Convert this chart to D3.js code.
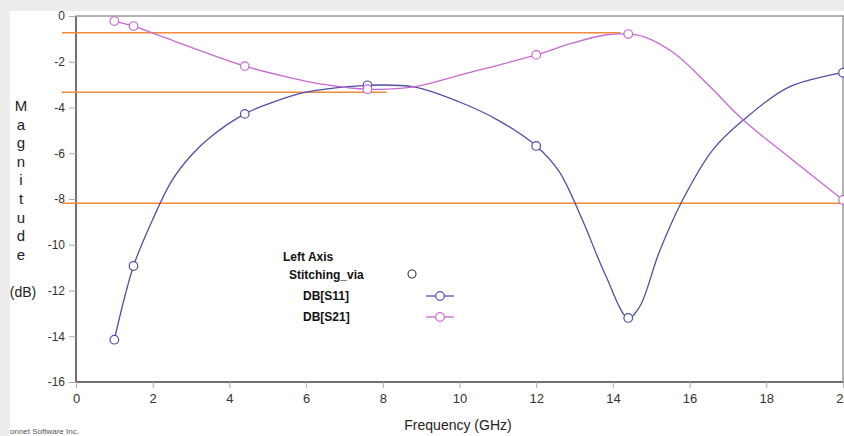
<!DOCTYPE html>
<html>
<head>
<meta charset="utf-8">
<script src="https://cdn.jsdelivr.net/npm/d3@7"></script>
<style>
  html, body { margin: 0; padding: 0; background: #fff; }
  svg { display: block; font-family: "Liberation Sans", Arial, sans-serif; }
</style>
</head>
<body>
<svg id="chart" width="844" height="436"></svg>
<script>
// marker frequencies (GHz) and values at them
const markerFreq = [1, 1.5, 4.4, 7.6, 12, 14.4, 20];
const s11Markers = [-14.15, -10.93, -4.28, -3.03, -5.68, -13.2, -2.48];
const s21Markers = [-0.22, -0.44, -2.19, -3.2, -1.7, -0.79, -8.04];

// curve samples
const s11Freq = [1, 1.5, 2, 2.5, 3, 3.5, 4.4, 5, 5.8, 6.5, 7.6, 8.8, 10, 11, 12, 12.6, 13.2, 13.8, 14.4, 14.7, 15.2, 15.8, 16.6, 17.4, 18.6, 20];
const s11Curve = [-14.15, -10.93, -8.9, -7.2, -6.1, -5.3, -4.28, -3.85, -3.4, -3.2, -3.03, -3.1, -3.76, -4.55, -5.68, -6.8, -8.9, -11.3, -13.2, -12.7, -10.36, -8.1, -5.86, -4.55, -3.1, -2.48];
const s21Freq = [1, 1.5, 2.2, 3.2, 4.4, 5.6, 6.5, 7.6, 8.8, 10.2, 12, 12.96, 13.8, 14.4, 14.8, 15.6, 16.45, 17.4, 18.36, 20];
const s21Curve = [-0.22, -0.44, -0.87, -1.49, -2.19, -2.7, -3.0, -3.2, -3.1, -2.5, -1.7, -1.18, -0.83, -0.79, -0.9, -1.63, -2.95, -4.55, -5.86, -8.04];

// orange reference lines: level (dB) and where each stops (GHz)
const refLevels = [-0.73, -3.33, -8.19];
const refEnds = [14.2, 8.1, 20];

const xTicks = [0, 2, 4, 6, 8, 10, 12, 14, 16, 18, 20];
const yTicks = [0, -2, -4, -6, -8, -10, -12, -14, -16];
const yLetters = ["M", "a", "g", "n", "i", "t", "u", "d", "e"];

const s11Color = "#4f4fa6";
const s21Color = "#c66ad0";
const refColor = "#f28a3a";

const svg = d3.select("#chart");
const W = 844, H = 436;

// gray frame at the top and left
svg.append("rect").attr("x", 0).attr("y", 0).attr("width", W).attr("height", 11).attr("fill", "#ededed");
svg.append("rect").attr("x", 0).attr("y", 0).attr("width", 10).attr("height", H).attr("fill", "#ededed");

const x = d3.scaleLinear().domain([0, 20]).range([76, 843]);
const y = d3.scaleLinear().domain([-16, 0]).range([382, 16]);

// plot frame
svg.append("rect")
    .attr("x", x(0)).attr("y", y(0))
    .attr("width", x(20) - x(0)).attr("height", y(-16) - y(0))
    .attr("fill", "#fff")
    .attr("stroke", "#9a9a9a")
    .attr("stroke-width", 1.5);
svg.append("line")
    .attr("x1", x(0)).attr("x2", x(0)).attr("y1", y(0)).attr("y2", y(-16))
    .attr("stroke", "#707070").attr("stroke-width", 2);
svg.append("line")
    .attr("x1", x(0)).attr("x2", x(20)).attr("y1", y(-16)).attr("y2", y(-16))
    .attr("stroke", "#707070").attr("stroke-width", 2);

// axes (plain hyphen minus, like the original)
const fmt = d => String(d);

const xAxis = svg.append("g")
    .attr("transform", `translate(0,${y(-16)})`)
    .call(d3.axisBottom(x).tickValues(xTicks).tickSize(6).tickPadding(6).tickFormat(fmt));
xAxis.select(".domain").remove();
xAxis.selectAll("line").attr("stroke", "#aaa");
xAxis.selectAll("text").attr("font-size", 13).attr("fill", "#333").attr("font-family", "Liberation Sans, Arial, sans-serif");

const yAxis = svg.append("g")
    .attr("transform", `translate(${x(0)},0)`)
    .call(d3.axisLeft(y).tickValues(yTicks).tickSize(7).tickPadding(4).tickFormat(fmt));
yAxis.select(".domain").remove();
yAxis.selectAll("line").attr("stroke", "#aaa");
yAxis.selectAll("text").attr("font-size", 12).attr("fill", "#333").attr("font-family", "Liberation Sans, Arial, sans-serif");

// axis titles
svg.append("text")
    .attr("x", 458).attr("y", 430)
    .attr("text-anchor", "middle")
    .attr("font-size", 14).attr("fill", "#222")
    .text("Frequency (GHz)");

svg.selectAll("text.ylet")
    .data(yLetters)
    .enter()
    .append("text")
    .classed("ylet", true)
    .attr("x", 21)
    .attr("y", (d, i) => 111 + i * 18.6)
    .attr("text-anchor", "middle")
    .attr("font-size", 15).attr("fill", "#222")
    .text(d => d);
svg.append("text")
    .attr("x", 23).attr("y", 297)
    .attr("text-anchor", "middle")
    .attr("font-size", 14).attr("fill", "#222")
    .text("(dB)");

svg.append("text")
    .attr("x", 10).attr("y", 434)
    .attr("font-size", 8).attr("fill", "#555")
    .text("onnet Software Inc.");

// orange reference lines
svg.append("g").selectAll("line")
    .data(refLevels)
    .enter()
    .append("line")
    .attr("x1", x(0) - 14)
    .attr("x2", (d, i) => Math.min(x(refEnds[i]), W))
    .attr("y1", d => y(d)).attr("y2", d => y(d))
    .attr("stroke", refColor).attr("stroke-width", 1.5);

// curves
const line = d3.line()
    .x(d => x(d[0]))
    .y(d => y(d[1]))
    .curve(d3.curveCatmullRom.alpha(0.5));

const series = [
    {freq: s11Freq, vals: s11Curve, marks: s11Markers, color: s11Color},
    {freq: s21Freq, vals: s21Curve, marks: s21Markers, color: s21Color},
];

series.forEach(s => {
    svg.append("path")
        .datum(d3.zip(s.freq, s.vals))
        .attr("d", line)
        .attr("fill", "none")
        .attr("stroke", s.color)
        .attr("stroke-width", 1.3);
});

series.forEach(s => {
    svg.append("g").selectAll("circle")
        .data(d3.zip(markerFreq, s.marks))
        .enter()
        .append("circle")
        .attr("cx", d => x(d[0]))
        .attr("cy", d => y(d[1]))
        .attr("r", 4.3)
        .attr("fill", "#fff")
        .attr("stroke", s.color)
        .attr("stroke-width", 1.2);
});

// legend
const legend = svg.append("g").attr("font-size", 12).attr("font-weight", "bold").attr("fill", "#111");
legend.append("text").attr("x", 283).attr("y", 261).text("Left Axis");
legend.append("text").attr("x", 289).attr("y", 279).text("Stitching_via");
legend.append("circle").attr("cx", 412).attr("cy", 274).attr("r", 4)
    .attr("fill", "#fff").attr("stroke", "#333").attr("stroke-width", 1.1);

const legendItems = [
    {name: "DB[S11]", color: s11Color, y: 296},
    {name: "DB[S21]", color: s21Color, y: 317},
];
legendItems.forEach(item => {
    legend.append("text").attr("x", 303).attr("y", item.y + 4).text(item.name);
    legend.append("line")
        .attr("x1", 426).attr("x2", 454).attr("y1", item.y).attr("y2", item.y)
        .attr("stroke", item.color).attr("stroke-width", 1.3);
    legend.append("circle").attr("cx", 440).attr("cy", item.y).attr("r", 4.3)
        .attr("fill", "#fff").attr("stroke", item.color).attr("stroke-width", 1.2);
});
</script>
</body>
</html>
